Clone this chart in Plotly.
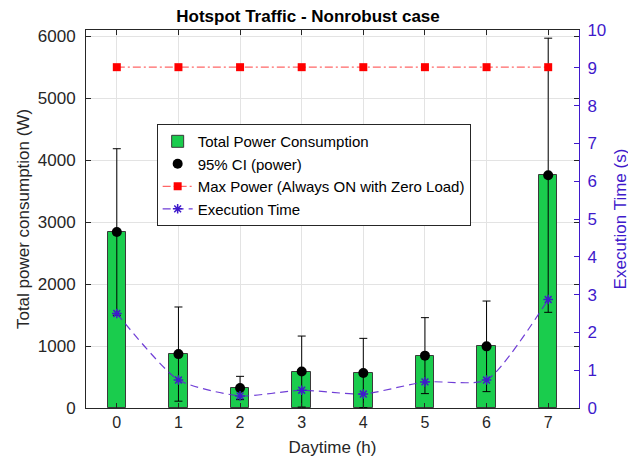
import plotly.graph_objects as go

hours = [0, 1, 2, 3, 4, 5, 6, 7]
power_mean = [2840, 870, 323, 588, 565, 845, 995, 3756]
power_ci = [1344, 760, 188, 573, 559, 613, 731, 2212]
max_power = [5500, 5500, 5500, 5500, 5500, 5500, 5500, 5500]
exec_time = [2.50, 0.74, 0.32, 0.47, 0.37, 0.69, 0.74, 2.87]

FONT = "Liberation Sans, Arial, sans-serif"
AXC = "#262626"
PURP = "#3f1acb"

# the page body has an 8px default margin; figure is sized/offset to compensate
OFF = 8
W, H = 636 - OFF, 457 - OFF
PL, PR, PT, PB = 86, 579.3, 30, 407.7  # plot area in window pixels

fig = go.Figure()

fig.add_trace(go.Bar(
    x=hours, y=power_mean, width=0.3, name="Total Power Consumption",
    marker=dict(color="#1acc4d", line=dict(color="#3a3a3a", width=1)),
    yaxis="y",
))
fig.add_trace(go.Scatter(
    x=hours, y=power_mean, mode="markers", name="95% CI (power)",
    marker=dict(color="black", size=10, symbol="circle"),
    error_y=dict(type="data", array=power_ci, color="black", thickness=1, width=4),
    yaxis="y",
))
fig.add_trace(go.Scatter(
    x=hours, y=max_power, mode="lines+markers",
    name="Max Power (Always ON with Zero Load)",
    line=dict(color="rgba(255,0,0,0.6)", width=1.2, dash="8px,3px,2px,3px"),
    marker=dict(color="#ff0000", size=8, symbol="square"),
    yaxis="y",
))
fig.add_trace(go.Scatter(
    x=hours, y=exec_time, mode="lines+markers", name="Execution Time",
    line=dict(color="rgba(95,40,210,0.9)", width=1.2, dash="8px,5px", shape="spline", smoothing=0.6),
    marker=dict(color=PURP, size=8, symbol="asterisk-open", line=dict(color=PURP, width=1.5)),
    yaxis="y2",
))

fig.update_layout(
    width=W, height=H, autosize=False,
    margin=dict(l=PL - OFF, r=W - (PR - OFF), t=PT - OFF, b=H - (PB - OFF), autoexpand=False),
    paper_bgcolor="white", plot_bgcolor="white",
    font=dict(family=FONT, size=16, color=AXC),
    showlegend=True,
    title=dict(text="<b>Hotspot Traffic - Nonrobust case</b>", x=(308 - OFF) / W, xref="container",
               xanchor="center", y=1 - (16.5 - OFF) / H, yref="container", yanchor="middle",
               font=dict(size=17, color="black", family=FONT)),
    xaxis=dict(
        range=[-0.5, 7.5], tickvals=hours, ticktext=[str(h) for h in hours],
        ticks="inside", ticklen=5, tickcolor=AXC, showline=True, linecolor=AXC, linewidth=1,
        mirror="ticks", showgrid=True, gridcolor="#e3e3e3", zeroline=False, automargin=False,
        title=dict(text="Daytime (h)", font=dict(size=17)),
        tickfont=dict(size=16),
    ),
    yaxis=dict(
        range=[0, 6100], tickvals=[0, 1000, 2000, 3000, 4000, 5000, 6000],
        ticks="inside", ticklen=5, tickcolor=AXC, showline=True, linecolor=AXC, linewidth=1,
        mirror="ticks", showgrid=True, gridcolor="#e3e3e3", zeroline=False, automargin=False,
        title=dict(text="Total power consumption (W)", font=dict(size=17), standoff=3),
        tickfont=dict(size=17), ticklabelstandoff=6,
    ),
    yaxis2=dict(
        range=[0, 10], tickvals=list(range(0, 11)), overlaying="y", side="right",
        ticks="inside", ticklen=5, tickcolor=PURP, showline=True, linecolor=PURP, linewidth=1,
        showgrid=False, zeroline=False, color=PURP, automargin=False,
        title=dict(text="Execution Time (s)", font=dict(size=17, color=PURP), standoff=8),
        tickfont=dict(size=17, color=PURP), ticklabelstandoff=4,
    ),
    legend=dict(
        x=(156.7 - PL) / (PR - PL), y=(PB - 124) / (PB - PT), xanchor="left", yanchor="top",
        bgcolor="white", bordercolor="#262626", borderwidth=1,
        font=dict(size=15, color="black"), tracegroupgap=0, itemwidth=30,
    ),
    bargap=0,
)

fig.write_html("out.html")
